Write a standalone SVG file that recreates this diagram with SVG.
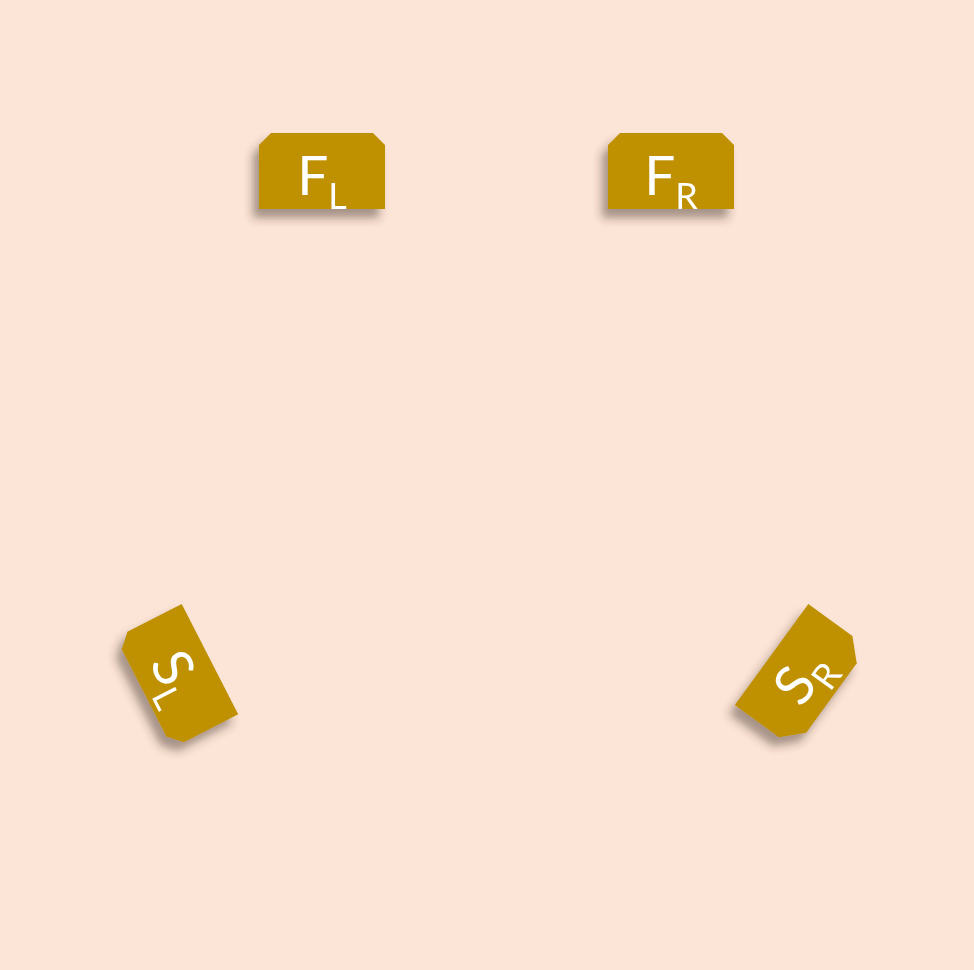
<svg xmlns="http://www.w3.org/2000/svg" width="974" height="970" viewBox="0 0 974 970">
<defs>
<filter id="sh" x="-40%" y="-40%" width="180%" height="180%">
<feDropShadow dx="-6" dy="9" stdDeviation="5" flood-color="#3a2a20" flood-opacity="0.45"/>
</filter>
<style>
.box{fill:#BF9000;}
.lbl{font-family:Lato,"Open Sans","DejaVu Sans",sans-serif;fill:#FFFFFF;font-size:55px;text-anchor:middle;}
.sub{font-size:36px;}
</style>
</defs>
<rect x="0" y="0" width="974" height="970" fill="#FCE4D6"/>
<g id="FL" filter="url(#sh)">
<g transform="translate(322,171)">
<path class="box" d="M-63,38 V-26 L-51,-38 H51 L63,-26 V38 Z"/>
<text class="lbl" x="0" y="24">F<tspan class="sub" dy="13.5">L</tspan></text>
</g>
</g>
<g id="FR" filter="url(#sh)">
<g transform="translate(671,171)">
<path class="box" d="M-63,38 V-26 L-51,-38 H51 L63,-26 V38 Z"/>
<text class="lbl" x="0" y="24">F<tspan class="sub" dy="13.5">R</tspan></text>
</g>
</g>
<g id="SL" filter="url(#sh)">
<g transform="translate(177,676) rotate(62.9)">
<path class="box" d="M-62,-37 H62 V24 L49,37 H-49 L-62,24 Z"/>
<text class="lbl" x="0" y="19">S<tspan class="sub" dy="13.5">L</tspan></text>
</g>
</g>
<g id="SR" filter="url(#sh)">
<g transform="translate(801.5,676.3) rotate(-54)">
<path class="box" d="M-62.5,-37 H62.5 V17.5 L43,37 H-43 L-62.5,17.5 Z"/>
<text class="lbl" x="0" y="19">S<tspan class="sub" dy="13.5">R</tspan></text>
</g>
</g>
<g id="connectors"/>
</svg>
